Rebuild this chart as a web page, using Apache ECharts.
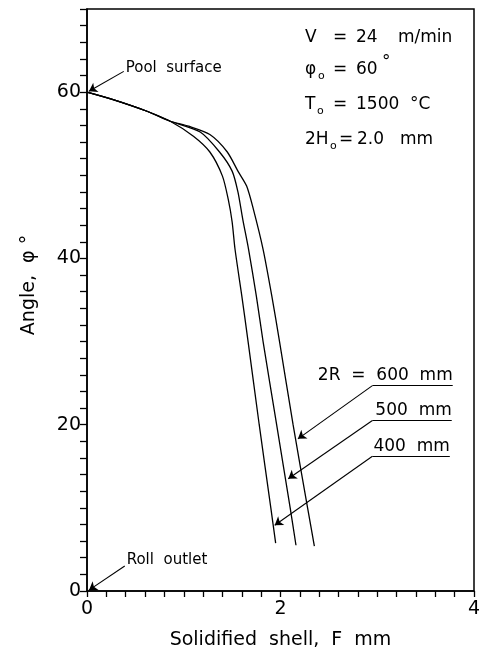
<!DOCTYPE html>
<html><head><meta charset="utf-8">
<script src="https://cdn.jsdelivr.net/npm/echarts/dist/echarts.min.js"></script>
<style>html,body{margin:0;padding:0;background:#fff}#c{width:485px;height:655px}</style>
</head><body><div id="c"></div>
<script>
// ---- data ----
const shell400 = [0, 0.27, 0.62, 0.86, 1.10, 1.27, 1.40, 1.46, 1.50, 1.53, 1.60, 1.665, 1.78, 1.90, 1.95];
const angle400 = [60, 59.1, 57.7, 56.5, 54.7, 52.8, 49.9, 47.1, 44.4, 41.1, 35.5, 30, 20, 10, 5.75];
const shell500 = [0, 0.27, 0.62, 0.86, 1.17, 1.37, 1.50, 1.56, 1.61, 1.67, 1.75, 1.82, 1.96, 2.10, 2.16];
const angle500 = [60, 59.1, 57.7, 56.5, 55.2, 52.8, 50.5, 48.0, 44.7, 41.1, 35.5, 30, 20, 10, 5.5];
const shell600 = [0, 0.27, 0.62, 0.86, 1.05, 1.27, 1.45, 1.56, 1.65, 1.72, 1.82, 1.91, 1.99, 2.13, 2.28, 2.35];
const angle600 = [60, 59.1, 57.7, 56.5, 55.9, 54.9, 52.8, 50.5, 48.7, 45.9, 41.1, 35.5, 30, 20, 10, 5.4];
const seriesNames = ['400 mm', '500 mm', '600 mm'];
const xTickLabels = [0, 2, 4];
const yTickLabels = [0, 20, 40, 60];

const FONT = 'DejaVu Sans';
const zip = (xs, ys) => xs.map((x, i) => [x, ys[i]]);
const curves = [zip(shell400, angle400), zip(shell500, angle500), zip(shell600, angle600)];

const near = (v, list) => list.some(t => Math.abs(v - t) < 1e-6);

// annotation layout (data coordinates)
const notes = [
  {text: 'Pool  surface', at: [0.40, 62.9], align: 'left', vAlign: 'middle', size: 15},
  {text: 'Roll  outlet', at: [0.41, 3.7], align: 'left', vAlign: 'middle', size: 15},
  {text: '2R  =  600  mm', at: [3.78, 24.9], align: 'right', vAlign: 'bottom', size: 17},
  {text: '500  mm', at: [3.77, 20.7], align: 'right', vAlign: 'bottom', size: 17},
  {text: '400  mm', at: [3.75, 16.4], align: 'right', vAlign: 'bottom', size: 17}
];
const arrows = [
  [[0.38, 62.5], [0.02, 60.1]],
  [[0.39, 3.0], [0.02, 0.1]],
  [[2.95, 24.7], [2.18, 18.3]],
  [[2.95, 20.5], [2.08, 13.5]],
  [[2.95, 16.2], [1.94, 7.9]]
];
const underlines = [
  [[2.95, 24.7], [3.78, 24.7]],
  [[2.95, 20.5], [3.77, 20.5]],
  [[2.95, 16.2], [3.75, 16.2]]
];

const chart = echarts.init(document.getElementById('c'), null, {renderer: 'canvas'});

const txt = (x, y, s, size) => ({type: 'text', x: x, y: y, style: {text: s, font: (size || 17) + 'px "' + FONT + '"', fill: '#000', textVerticalAlign: 'middle', verticalAlign: 'middle'}});

const series = curves.map((d, i) => ({
  name: seriesNames[i], type: 'line', data: d, showSymbol: false, symbol: 'none',
  smooth: 0.25, lineStyle: {color: '#000', width: 1.3}, animation: false, z: 3
}));
series.push({
  type: 'line', data: [], animation: false, silent: true,
  markLine: {
    silent: true, animation: false, symbol: ['none', 'arrow'], symbolSize: 8,
    label: {show: false}, lineStyle: {color: '#000', width: 1.1, type: 'solid', opacity: 1},
    emphasis: {disabled: true},
    data: arrows.map(a => [{coord: a[0]}, {coord: a[1]}])
  }
});
series.push({
  type: 'line', data: [], animation: false, silent: true,
  markLine: {
    silent: true, animation: false, symbol: ['none', 'none'],
    label: {show: false}, lineStyle: {color: '#000', width: 1.1, type: 'solid', opacity: 1},
    data: underlines.map(a => [{coord: a[0]}, {coord: a[1]}])
  }
});
series.push({
  type: 'scatter', symbolSize: 0, animation: false, silent: true,
  itemStyle: {opacity: 1},
  data: notes.map(n => ({
    value: n.at,
    label: {show: true, position: [0, 0], formatter: n.text, align: n.align, verticalAlign: n.vAlign,
      fontFamily: FONT, fontSize: n.size, color: '#000', opacity: 1}
  }))
});

chart.setOption({
  animation: false,
  backgroundColor: '#fff',
  grid: {left: 87, right: 11, top: 9, bottom: 62, show: true, borderColor: '#000', borderWidth: 1.5},
  xAxis: {
    type: 'value', min: 0, max: 4, interval: 0.2,
    name: 'Solidified  shell,  F  mm', nameLocation: 'middle', nameGap: 40,
    nameTextStyle: {fontFamily: FONT, fontSize: 19, color: '#000'},
    axisLine: {lineStyle: {color: '#000', width: 1.5}},
    axisTick: {show: true, length: 6, lineStyle: {color: '#000', width: 1.3}},
    axisLabel: {fontFamily: FONT, fontSize: 19, color: '#000', margin: 9,
      formatter: v => near(v, xTickLabels) ? String(Math.round(v)) : ''},
    splitLine: {show: false}
  },
  yAxis: {
    type: 'value', min: 0, max: 70, interval: 2,
    name: 'Angle,  φ °', nameLocation: 'middle', nameGap: 48,
    nameTextStyle: {fontFamily: FONT, fontSize: 19, color: '#000', padding: [0, 0, 0, 30]},
    axisLine: {lineStyle: {color: '#000', width: 1.5}},
    axisTick: {show: true, length: 7, lineStyle: {color: '#000', width: 1.3}},
    axisLabel: {fontFamily: FONT, fontSize: 19, color: '#000', margin: 6,
      formatter: v => near(v, yTickLabels) ? String(Math.round(v)) : ''},
    splitLine: {show: false}
  },
  graphic: [
    txt(305, 38, 'V'), txt(333, 38, '='), txt(356, 38, '24'), txt(398, 38, 'm/min'),
    txt(305, 70, 'φ'), txt(318, 76, 'o', 11), txt(333, 70, '='), txt(356, 70, '60'), txt(382, 63, '°', 17),
    txt(305, 105, 'T'), txt(317, 111, 'o', 11), txt(333, 105, '='), txt(356, 105, '1500'), txt(410, 105, '°C'),
    txt(305, 140, '2H'), txt(330, 146, 'o', 11), txt(339, 140, '='), txt(357, 140, '2.0'), txt(400, 140, 'mm')
  ],
  series: series
});
</script>
</body></html>
